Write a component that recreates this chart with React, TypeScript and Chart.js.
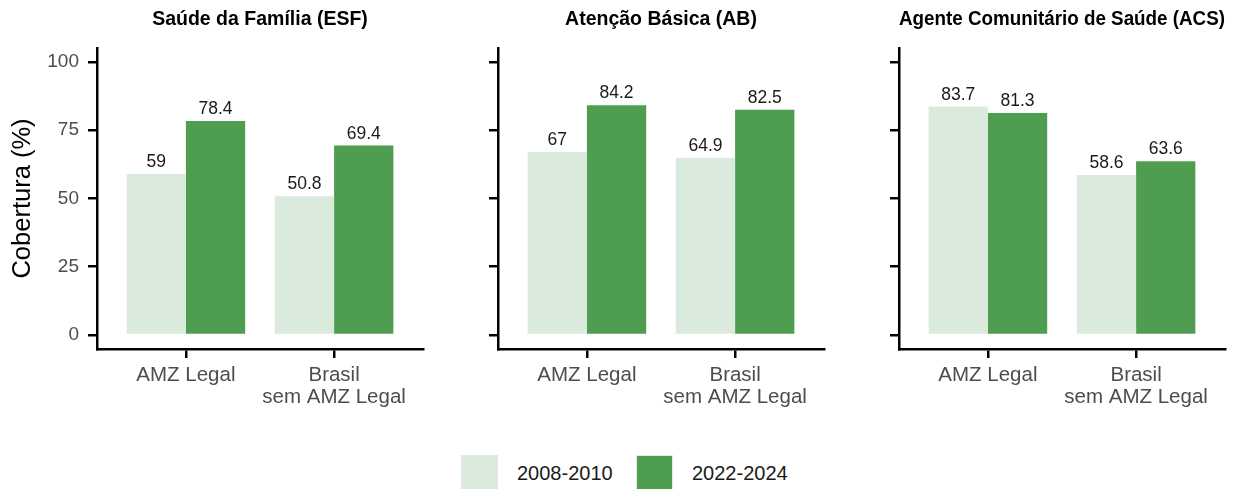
import React, { useEffect, useRef } from "react";
import { Chart, registerables } from "chart.js";

Chart.register(...registerables);

// ---- data ----
const categories: (string | string[])[] = ["AMZ Legal", ["Brasil", "sem AMZ Legal"]];
const seriesLabels = ["2008-2010", "2022-2024"];
const panelTitles = [
  "Saúde da Família (ESF)",
  "Atenção Básica (AB)",
  "Agente Comunitário de Saúde (ACS)",
];
const esf2008 = [59, 50.8];
const esf2022 = [78.4, 69.4];
const ab2008 = [67, 64.9];
const ab2022 = [84.2, 82.5];
const acs2008 = [83.7, 58.6];
const acs2022 = [81.3, 63.6];
const yTicks = [0, 25, 50, 75, 100];
const yTitle = "Cobertura (%)";

const colors = ["#daebde", "#4e9d51"];
const FONT = "'Liberation Sans', Arial, sans-serif";

const panelSeries = [
  [esf2008, esf2022],
  [ab2008, ab2022],
  [acs2008, acs2022],
];

const valueLabels = {
  id: "valueLabels",
  afterDatasetsDraw(chart: any) {
    const ctx = chart.ctx;
    ctx.save();
    ctx.font = `17.5px ${FONT}`;
    ctx.fillStyle = "#1a1a1a";
    ctx.textAlign = "center";
    ctx.textBaseline = "alphabetic";
    chart.data.datasets.forEach((ds: any, di: number) => {
      const meta = chart.getDatasetMeta(di);
      meta.data.forEach((el: any, i: number) => {
        const v = ds.data[i].y;
        ctx.fillText(String(v), el.x, el.y - 7);
      });
    });
    ctx.restore();
  },
};

function Panel({ index }: { index: number }) {
  const ref = useRef<HTMLCanvasElement | null>(null);
  useEffect(() => {
    if (!ref.current) return;
    const showY = index === 0;
    const series = panelSeries[index];
    const chart = new Chart(ref.current, {
      type: "bar",
      data: {
        datasets: series.map((vals, si) => ({
          label: seriesLabels[si],
          data: vals.map((y, i) => ({ x: i, y })),
          backgroundColor: colors[si],
          borderWidth: 0,
          categoryPercentage: 0.8,
          barPercentage: 1,
        })),
      } as any,
      options: {
        responsive: false,
        animation: false,
        layout: { padding: { left: 0, right: 7, top: 0, bottom: 0 } },
        plugins: {
          legend: { display: false },
          tooltip: { enabled: false },
          title: {
            display: true,
            text: panelTitles[index],
            fullSize: false,
            color: "#000",
            font: { family: FONT, size: 19.5, weight: "bold", lineHeight: 1.2 },
            padding: { top: 8.3, bottom: 16.3 },
          },
        },
        scales: {
          x: {
            type: "linear",
            min: -0.6,
            max: 1.6,
            offset: false,
            afterBuildTicks: (s: any) => {
              s.ticks = categories.map((_, i) => ({ value: i }));
            },
            afterFit: (s: any) => {
              s.height = 71;
            },
            ticks: {
              callback: (v: any) => categories[v as number] as any,
              font: { family: FONT, size: 20.5, lineHeight: 1.07 },
              color: "#4d4d4d",
              padding: 6,
              autoSkip: false,
              maxRotation: 0,
              minRotation: 0,
            },
            grid: {
              offset: false,
              drawOnChartArea: false,
              drawTicks: true,
              tickLength: 9,
              color: "#000",
              lineWidth: 2.5,
            },
            border: { display: true, color: "#000", width: 2.5 },
          },
          y: {
            type: "linear",
            min: -5.13,
            max: 105.13,
            afterBuildTicks: (s: any) => {
              s.ticks = yTicks.map((v) => ({ value: v }));
            },
            afterFit: (s: any) => {
              s.width = 97;
            },
            ticks: {
              font: { family: FONT, size: 19 },
              color: showY ? "#4d4d4d" : "rgba(0,0,0,0)",
              padding: 9,
            },
            grid: {
              drawOnChartArea: false,
              drawTicks: true,
              tickLength: 9,
              color: "#000",
              lineWidth: 2.5,
            },
            border: { display: true, color: "#000", width: 2.5 },
            title: {
              display: showY,
              text: yTitle,
              color: "#000",
              font: { family: FONT, size: 25.5, lineHeight: 1.2 },
              padding: { top: 8, bottom: 0 },
            },
          },
        },
      } as any,
      plugins: [valueLabels],
    });
    return () => chart.destroy();
  }, [index]);
  return (
    <canvas
      ref={ref}
      width={430}
      height={420}
      style={{ position: "absolute", left: index * 401, top: 0, width: 430, height: 420 }}
    />
  );
}

export default function App() {
  return (
    <div
      style={{
        position: "absolute",
        left: 0,
        top: 0,
        width: 1242,
        height: 489,
        overflow: "hidden",
        background: "#fff",
        fontFamily: FONT,
      }}
    >
      {[0, 1, 2].map((i) => (
        <Panel key={i} index={i} />
      ))}
      {seriesLabels.map((lab, i) => {
        const boxLeft = i === 0 ? 461 : 636;
        return (
          <React.Fragment key={lab}>
            <div
              style={{
                position: "absolute",
                left: boxLeft,
                top: 455,
                width: 37,
                height: 37,
                boxSizing: "border-box",
                border: "1px solid #e6e6e6",
                background: colors[i],
              }}
            />
            <div
              style={{
                position: "absolute",
                left: boxLeft + 56,
                top: 455,
                height: 37,
                lineHeight: "37px",
                fontSize: 20,
                color: "#1a1a1a",
                whiteSpace: "nowrap",
              }}
            >
              {lab}
            </div>
          </React.Fragment>
        );
      })}
    </div>
  );
}
